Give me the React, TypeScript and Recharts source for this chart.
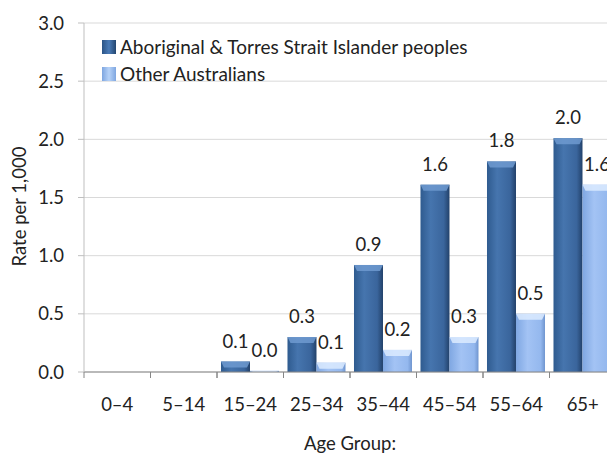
import { BarChart, Bar, XAxis, YAxis, CartesianGrid, LabelList } from 'recharts'

const ageGroups = ['0–4', '5–14', '15–24', '25–34', '35–44', '45–54', '55–64', '65+']
const indigenousRates = [null, null, 0.09, 0.3, 0.92, 1.61, 1.81, 2.01]
const otherRates = [null, null, 0.01, 0.08, 0.19, 0.3, 0.5, 1.61]
const yTicks = [0, 0.5, 1, 1.5, 2, 2.5, 3]
const seriesNames = ['Aboriginal & Torres Strait Islander peoples', 'Other Australians']

const data = ageGroups.map((group, i) => ({
  group,
  indigenous: indigenousRates[i],
  other: otherRates[i],
}))

const FONT = 'Lato, "Liberation Sans", sans-serif'
const FS = 18.5
const CHART_W = 640
const PLOT_LEFT = 84
const PLOT_RIGHT = 616
const BAND = (PLOT_RIGHT - PLOT_LEFT) / ageGroups.length

// bar with an Excel-like bevel on top
const BevelBar = (props: any) => {
  const { x, y, width, height, kind } = props
  if (height == null || height <= 0) return null
  const cap = Math.min(6, height)
  const grad = kind === 'dark' ? 'url(#darkGrad)' : 'url(#lightGrad)'
  const capFill = kind === 'dark' ? '#6f9ad0' : '#dcebff'
  return (
    <g>
      <rect x={x} y={y} width={width} height={height} fill={grad} />
      <polygon
        points={`${x},${y} ${x + width},${y} ${x + width - 3},${y + cap} ${x + 3},${y + cap}`}
        fill={capFill}
        opacity={0.85}
      />
    </g>
  )
}

const AgeTick = (props: any) => {
  const { x, y, payload } = props
  return (
    <g>
      <line x1={x - BAND / 2} y1={y - 8} x2={x - BAND / 2} y2={y - 2} stroke="#868686" />
      <line x1={x + BAND / 2} y1={y - 8} x2={x + BAND / 2} y2={y - 2} stroke="#868686" />
      <text x={x} y={y + 31} textAnchor="middle" fontSize={FS} fontFamily={FONT} fill="#222">
        {payload.value}
      </text>
    </g>
  )
}

const YTitle = (props: any) => {
  const { viewBox } = props
  const cx = viewBox.x + 19
  const cy = viewBox.y + viewBox.height / 2 + 9
  return (
    <text
      x={cx}
      y={cy}
      transform={`rotate(-90 ${cx} ${cy})`}
      textAnchor="middle"
      dominantBaseline="central"
      fontSize={FS}
      fontFamily={FONT}
      fill="#222"
    >
      Rate per 1,000
    </text>
  )
}

const fmt = (v: any) => (v == null ? '' : Number(v).toFixed(1))

const swatches = [
  'linear-gradient(90deg,#2b5486,#4a7bb7,#23466f)',
  'linear-gradient(90deg,#7ea6e0,#b6d2f8,#7ea6e0)',
]

export default function App() {
  return (
    <div style={{ position: 'fixed', left: 0, top: 0, width: 607, height: 458, overflow: 'hidden', background: '#fff' }}>
      <BarChart
        width={CHART_W}
        height={458}
        data={data}
        margin={{ top: 23, right: CHART_W - PLOT_RIGHT, left: 0, bottom: 0 }}
        barCategoryGap="6%"
        barGap={0}
      >
        <defs>
          <linearGradient id="darkGrad" x1="0" y1="0" x2="1" y2="0">
            <stop offset="0%" stopColor="#2f5b8f" />
            <stop offset="35%" stopColor="#4675ae" />
            <stop offset="80%" stopColor="#3a659c" />
            <stop offset="100%" stopColor="#22416a" />
          </linearGradient>
          <linearGradient id="lightGrad" x1="0" y1="0" x2="1" y2="0">
            <stop offset="0%" stopColor="#7fa7e2" />
            <stop offset="40%" stopColor="#a3c3f4" />
            <stop offset="85%" stopColor="#94b8ee" />
            <stop offset="100%" stopColor="#6f95cf" />
          </linearGradient>
        </defs>
        <CartesianGrid vertical={false} stroke="#d9d9d9" />
        <XAxis
          dataKey="group"
          height={86}
          tick={<AgeTick />}
          tickLine={false}
          axisLine={{ stroke: '#868686' }}
          interval={0}
          label={{ value: 'Age Group:', position: 'insideBottom', offset: 8, fontSize: FS, fontFamily: FONT, fill: '#222' }}
        />
        <YAxis
          width={PLOT_LEFT}
          domain={[0, 3]}
          ticks={yTicks}
          tickFormatter={(v: number) => v.toFixed(1)}
          tick={{ fontSize: FS, fontFamily: FONT, fill: '#222' }}
          tickSize={6}
          tickMargin={14}
          tickLine={{ stroke: '#bfbfbf' }}
          axisLine={{ stroke: '#bfbfbf' }}
          label={<YTitle />}
        />
        <Bar dataKey="indigenous" isAnimationActive={false} shape={<BevelBar kind="dark" />}>
          <LabelList dataKey="indigenous" position="top" offset={14} formatter={fmt} fontSize={FS} fontFamily={FONT} fill="#222" />
        </Bar>
        <Bar dataKey="other" isAnimationActive={false} shape={<BevelBar kind="light" />}>
          <LabelList dataKey="other" position="top" offset={14} formatter={fmt} fontSize={FS} fontFamily={FONT} fill="#222" />
        </Bar>
      </BarChart>
      <div style={{ position: 'absolute', left: 102, top: 33, fontFamily: FONT, fontSize: 19, color: '#222', lineHeight: '27px' }}>
        {seriesNames.map((name, i) => (
          <div key={name} style={{ display: 'flex', alignItems: 'center' }}>
            <span style={{ width: 14, height: 14, marginRight: 4, background: swatches[i] }} />
            {name}
          </div>
        ))}
      </div>
    </div>
  )
}
